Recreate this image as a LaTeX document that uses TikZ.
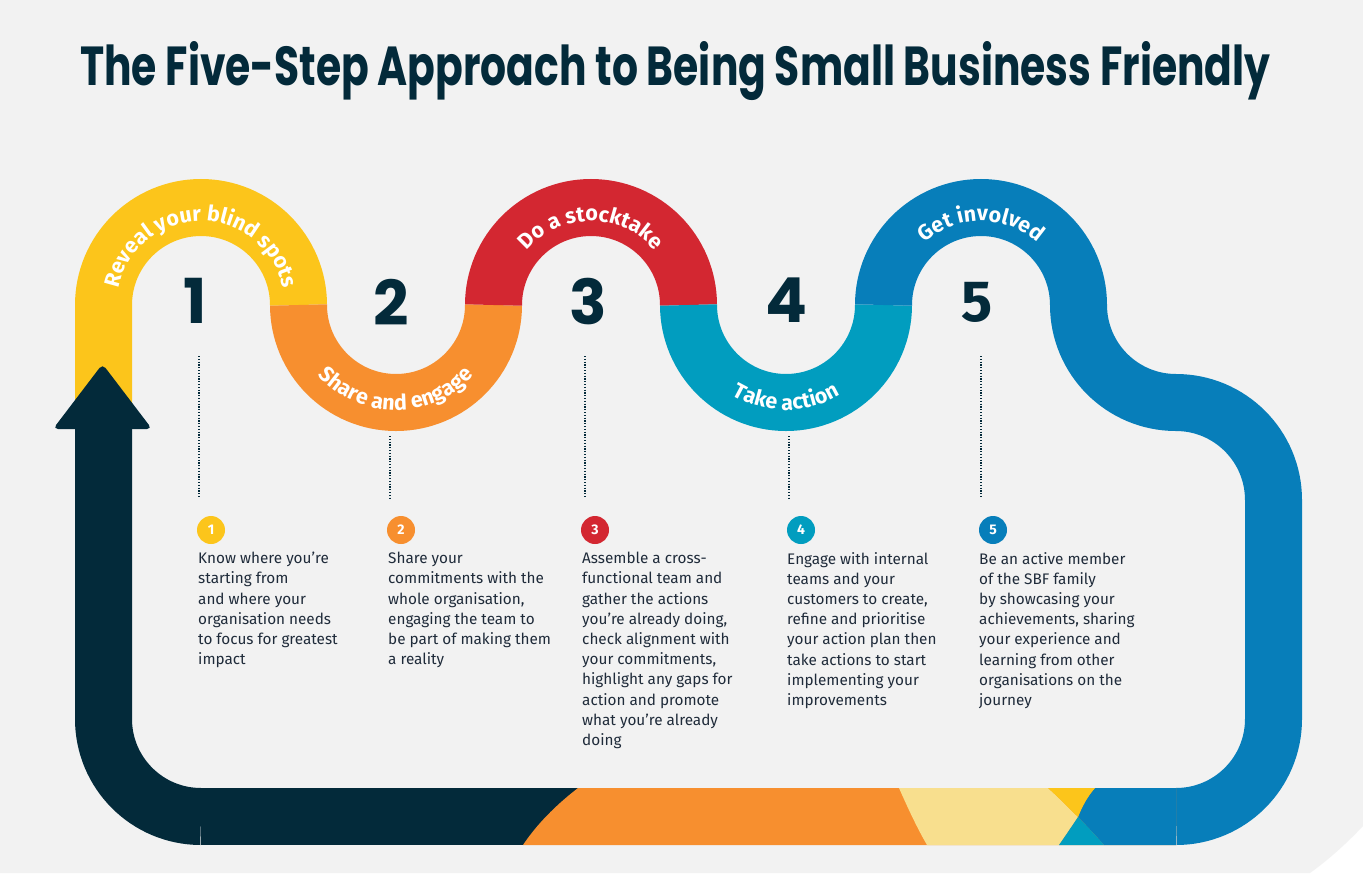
\documentclass[tikz,border=0pt]{standalone}
\usepackage{fontspec}
\setmainfont{Fira Sans}
\newfontfamily\titlefont{Poppins}
\usepackage{xcolor}
\usetikzlibrary{decorations.text}
\usetikzlibrary{positioning}

\definecolor{bggray}{HTML}{F2F2F2}
\definecolor{sbfyellow}{HTML}{FCC51B}
\definecolor{sbforange}{HTML}{F78F2F}
\definecolor{sbfred}{HTML}{D32731}
\definecolor{sbfteal}{HTML}{019DBF}
\definecolor{sbfblue}{HTML}{077EBA}
\definecolor{sbfnavy}{HTML}{032A3A}
\definecolor{sbfpale}{HTML}{F8DF8E}
\definecolor{inktext}{HTML}{1F2B3A}
\newcommand{\arcfont}{\bfseries\fontsize{21.5}{21.5}\selectfont}

\begin{document}
\begin{tikzpicture}[x=1pt,y=1pt,
  band/.style={line width=57pt},
  arclabel/.style={decorate,decoration={text along path,text align=center,
    text color=white,text={|\arcfont|#1}}},
  stepnum/.style={font=\titlefont\bfseries\fontsize{62}{62}\selectfont,text=sbfnavy,inner sep=0pt},
  badge/.style={circle,fill=#1,minimum size=28pt,inner sep=0pt,text=white,
    font=\bfseries\fontsize{14}{14}\selectfont},
  bodytext/.style={anchor=north west,align=left,inner sep=0pt,text=inktext,
    font=\fontsize{15.3}{20.2}\selectfont},
  dotline/.style={sbfnavy,line width=1.3pt,dash pattern=on 1.2pt off 1.6pt},
]
% page
\fill[white](0,0) rectangle (1363,-873);
\fill[bggray](0,0) -- (1363,0) -- (1363,-826) .. controls (1345,-845) and (1328,-860) .. (1310,-873) -- (0,-873) -- cycle;
\useasboundingbox(0,0) rectangle (1363,-873);

% title
\node[anchor=base west,inner sep=0pt,text=sbfnavy,font=\titlefont\bfseries](title) at(80,-85)
  {\resizebox{1190pt}{44pt}{The Five-Step Approach to Being Small Business Friendly}};

% the winding road
\draw[band,sbfyellow](103.5,-420) -- (103.5,-305) arc[start angle=180,end angle=0,radius=97.5];
\draw[band,sbforange](298.5,-305) arc[start angle=180,end angle=360,radius=97.5];
\draw[band,sbfred](493.5,-305) arc[start angle=180,end angle=0,radius=97.5];
\draw[band,sbfteal](688.5,-305) arc[start angle=180,end angle=360,radius=97.5];
\draw[band,sbfblue](883.5,-305) arc[start angle=180,end angle=0,radius=97.5]
  arc[start angle=180,end angle=270,radius=97.5] arc[start angle=90,end angle=0,radius=97.5]
  -- (1273.5,-719) arc[start angle=0,end angle=-90,radius=97.5];
\draw[band,sbfnavy](103.5,-425) -- (103.5,-719) arc[start angle=180,end angle=270,radius=97.5];

% bottom strip
\begin{scope}
\clip(201,-788) rectangle (1176,-845);
\fill[sbfnavy](201,-788) rectangle (1176,-845);
\fill[sbforange](578,-788) .. controls (556,-805) and (537,-824) .. (523,-845) -- (1176,-845) -- (1176,-788) -- cycle;
\fill[sbfblue](1095,-788) .. controls (1087,-797) and (1082,-807) .. (1078,-817)
  .. controls (1087,-826) and (1096,-836) .. (1104,-845) -- (1176,-845) -- (1176,-788) -- cycle;
\fill[sbfpale](899,-788) .. controls (907,-806) and (916,-826) .. (927,-845) -- (1059,-845)
  .. controls (1066,-835) and (1072,-826) .. (1078,-817) .. controls (1068,-807) and (1058,-797) .. (1048,-788) -- cycle;
\fill[sbfyellow](1048,-788) .. controls (1058,-797) and (1068,-807) .. (1078,-817)
  .. controls (1082,-807) and (1087,-797) .. (1095,-788) -- cycle;
\fill[sbfteal](1059,-845) .. controls (1066,-835) and (1072,-826) .. (1078,-817)
  .. controls (1087,-826) and (1096,-836) .. (1104,-845) -- cycle;
\end{scope}

% arrow head
\fill[sbfnavy,rounded corners=5pt](102.5,-364) -- (152,-429) -- (53,-429) -- cycle;

% labels on the road
\path[arclabel={Reveal your blind spots}](117,-305) arc[start angle=180,end angle=0,radius=84];
\path[arclabel={Share and engage}](291,-305) arc[start angle=180,end angle=360,radius=105];
\path[arclabel={Do a stocktake}](507,-305) arc[start angle=180,end angle=0,radius=84];
\path[arclabel={Take action}](681,-305) arc[start angle=180,end angle=360,radius=105];
\path[arclabel={Get involved}](897,-305) arc[start angle=180,end angle=0,radius=84];

% big step numbers
\node[stepnum](num1) at(195,-301){1}; \node[stepnum](num2) at(391,-302){2};
\node[stepnum](num3) at(588,-302){3}; \node[stepnum](num4) at(786,-300){4};
\node[stepnum,font=\bfseries\fontsize{58}{58}\selectfont](num5) at(977,-302){5};

% dotted leaders
\coordinate(d1top) at(199,-356); \coordinate(d1bot) at(199,-498);
\coordinate(d2top) at(390,-436); \coordinate(d2bot) at(390,-498);
\coordinate(d3top) at(585,-356); \coordinate(d3bot) at(585,-498);
\coordinate(d4top) at(789,-436); \coordinate(d4bot) at(789,-498);
\coordinate(d5top) at(981,-356); \coordinate(d5bot) at(981,-498);
\draw[dotline](d1top)--(d1bot); \draw[dotline](d2top)--(d2bot);
\draw[dotline](d3top)--(d3bot); \draw[dotline](d4top)--(d4bot);
\draw[dotline](d5top)--(d5bot);

% badges
\node[badge=sbfyellow](badge1) at(211,-530){1}; \node[badge=sbforange](badge2) at(401,-530){2};
\node[badge=sbfred](badge3) at(595,-530){3}; \node[badge=sbfteal](badge4) at(801,-530){4};
\node[badge=sbfblue](badge5) at(993,-530){5};

% descriptions
\node[bodytext](desc1) at(198,-552){Know where you’re\\starting from\\and where your\\organisation needs\\to focus for greatest\\impact};
\node[bodytext](desc2) at(388,-552){Share your\\commitments with the\\whole organisation,\\engaging the team to\\be part of making them\\a reality};
\node[bodytext](desc3) at(582,-552){Assemble a cross-\\functional team and\\gather the actions\\you’re already doing,\\check alignment with\\your commitments,\\highlight any gaps for\\action and promote\\what you’re already\\doing};
\node[bodytext](desc4) at(787,-552){Engage with internal\\teams and your\\customers to create,\\refine and prioritise\\your action plan then\\take actions to start\\implementing your\\improvements};
\node[bodytext](desc5) at(979,-552){Be an active member\\of the SBF family\\by showcasing your\\achievements, sharing\\your experience and\\learning from other\\organisations on the\\journey};
\end{tikzpicture}
\end{document}
